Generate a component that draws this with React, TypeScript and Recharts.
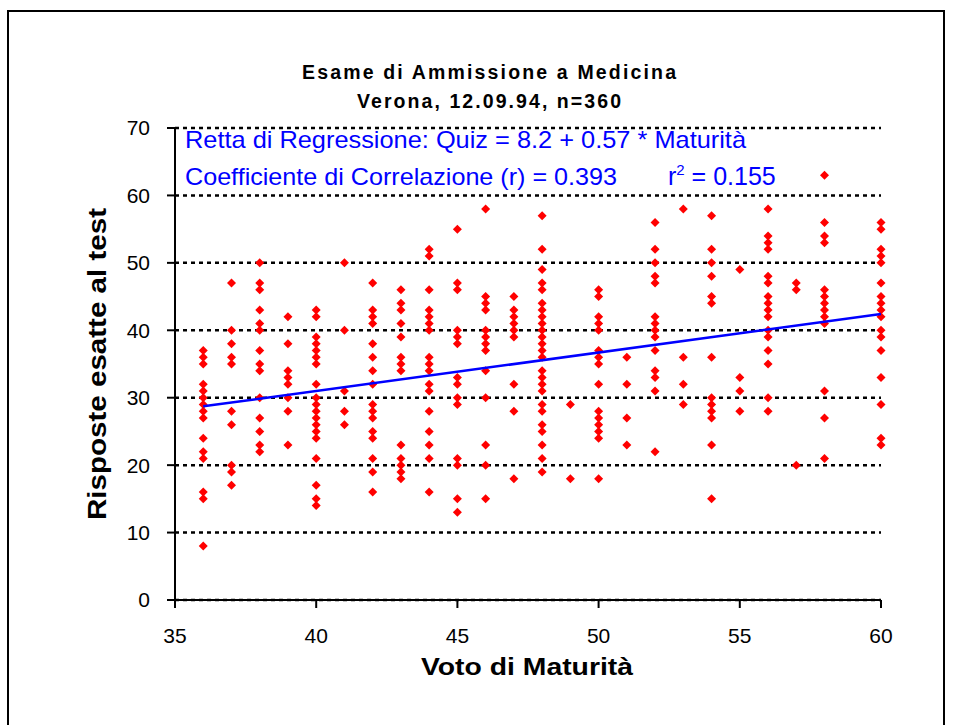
import { ScatterChart, Scatter, XAxis, YAxis, CartesianGrid } from "recharts";

// Voto di Maturità (x) and the quiz scores read for each column
const votoValues = [36, 37, 38, 39, 40, 41, 42, 43, 44, 45, 46, 47, 48, 49, 50, 51, 52, 53, 54, 55, 56, 57, 58, 60];

const quiz36 = [37, 36, 35, 32, 31, 30, 29, 28, 27, 24, 22, 21, 16, 15, 8];
const quiz37 = [47, 40, 38, 36, 35, 28, 26, 20, 19, 17];
const quiz38 = [50, 47, 46, 43, 41, 40, 37, 35, 34, 30, 27, 25, 23, 22];
const quiz39 = [42, 38, 34, 33, 32, 30, 28, 23];
const quiz40 = [43, 42, 39, 38, 37, 36, 35, 32, 30, 29, 28, 27, 26, 25, 24, 21, 17, 15, 14];
const quiz41 = [50, 40, 31, 28, 26];
const quiz42 = [47, 43, 42, 41, 38, 36, 34, 32, 29, 28, 27, 25, 24, 21, 19, 16];
const quiz43 = [46, 44, 43, 41, 39, 36, 35, 34, 23, 21, 20, 19, 18];
const quiz44 = [52, 51, 46, 43, 42, 41, 40, 36, 35, 34, 32, 31, 28, 25, 23, 21, 16];
const quiz45 = [55, 47, 46, 40, 39, 38, 33, 32, 30, 29, 21, 20, 15, 13];
const quiz46 = [58, 45, 44, 43, 40, 39, 38, 37, 34, 30, 23, 20, 15];
const quiz47 = [45, 43, 42, 41, 40, 39, 32, 28, 18];
const quiz48 = [57, 52, 49, 47, 46, 44, 43, 42, 41, 40, 39, 38, 37, 36, 34, 33, 32, 31, 29, 28, 26, 25, 23, 21, 19];
const quiz49 = [29, 18];
const quiz50 = [46, 45, 42, 41, 40, 37, 36, 35, 32, 28, 27, 26, 25, 24, 18];
const quiz51 = [36, 32, 27, 23];
const quiz52 = [56, 52, 50, 48, 47, 42, 41, 40, 39, 37, 34, 33, 31, 22];
const quiz53 = [58, 36, 32, 29];
const quiz54 = [57, 52, 50, 48, 45, 44, 36, 30, 29, 28, 27, 23, 15];
const quiz55 = [49, 33, 31, 28];
const quiz56 = [58, 54, 53, 52, 48, 47, 45, 44, 43, 42, 40, 39, 37, 35, 30, 28];
const quiz57 = [47, 46, 20];
const quiz58 = [63, 56, 54, 53, 46, 45, 44, 43, 42, 41, 31, 27, 21];
const quiz60 = [56, 55, 52, 51, 50, 47, 45, 44, 43, 42, 40, 39, 37, 33, 29, 24, 23];

const quizColumns = [
  quiz36, quiz37, quiz38, quiz39, quiz40, quiz41, quiz42, quiz43, quiz44, quiz45, quiz46, quiz47,
  quiz48, quiz49, quiz50, quiz51, quiz52, quiz53, quiz54, quiz55, quiz56, quiz57, quiz58, quiz60,
];

// regression: Quiz = 8.2 + 0.57 * Maturità
const intercept = 8.2;
const slope = 0.57;
const regressionRange = [36, 60];

const xTicks = [35, 40, 45, 50, 55, 60];
const yTicks = [0, 10, 20, 30, 40, 50, 60, 70];

const points = votoValues.flatMap((v, i) => quizColumns[i].map((q) => ({ x: v, y: q })));
const regressionPts = regressionRange.map((v) => ({ x: v, y: intercept + slope * v }));

const FONT = "'Liberation Sans', Arial, sans-serif";

const Diamond = (props: any) => {
  const { cx, cy } = props;
  if (cx == null || cy == null) return <g />;
  const r = 4.5;
  return <path d={`M${cx},${cy - r}L${cx + r},${cy}L${cx},${cy + r}L${cx - r},${cy}Z`} fill="#ff0000" />;
};

export default function App() {
  return (
    <div style={{ position: "absolute", left: 0, top: 0, width: 954, height: 725, overflow: "hidden", background: "#fff" }}>
      <div
        style={{
          position: "absolute",
          left: 7,
          top: 10,
          width: 934,
          height: 730,
          border: "2px solid #000",
        }}
      />
      <div style={{ position: "absolute", left: 0, top: 0 }}>
        <ScatterChart width={954} height={725} margin={{ top: 128, right: 73, bottom: 85, left: 115 }}>
          <CartesianGrid horizontal vertical={false} stroke="#000" strokeWidth={2.5} strokeDasharray="4 4" />
          <XAxis
            type="number"
            dataKey="x"
            domain={[35, 60]}
            ticks={xTicks}
            height={40}
            tickSize={8}
            tickMargin={20}
            axisLine={{ stroke: "#000", strokeWidth: 2 }}
            tickLine={{ stroke: "#000", strokeWidth: 2 }}
            tick={{ fill: "#000", fontSize: 21, fontFamily: FONT }}
          />
          <YAxis
            type="number"
            dataKey="y"
            domain={[0, 70]}
            ticks={yTicks}
            width={60}
            tickSize={8}
            tickMargin={17}
            axisLine={{ stroke: "#000", strokeWidth: 2 }}
            tickLine={{ stroke: "#000", strokeWidth: 2 }}
            tick={{ fill: "#000", fontSize: 21, fontFamily: FONT }}
          />
          <Scatter data={points} shape={Diamond} isAnimationActive={false} />
          <Scatter
            data={regressionPts}
            line={{ stroke: "#0000ff", strokeWidth: 2.5 }}
            shape={() => <g />}
            isAnimationActive={false}
          />
        </ScatterChart>
      </div>
      <svg width={954} height={725} style={{ position: "absolute", left: 0, top: 0, pointerEvents: "none" }}>
        <g fontFamily={FONT}>
          <text x={489} y={79} textAnchor="middle" fontSize={19.5} fontWeight="bold" textLength={374} lengthAdjust="spacing">
            Esame di Ammissione a Medicina
          </text>
          <text x={489} y={108} textAnchor="middle" fontSize={19.5} fontWeight="bold" textLength={264} lengthAdjust="spacing">
            Verona, 12.09.94, n=360
          </text>
          <text x={185} y={148} fontSize={24} fill="#0000ff" textLength={561} lengthAdjust="spacingAndGlyphs">
            Retta di Regressione: Quiz = 8.2 + 0.57 * Maturità
          </text>
          <text x={185} y={185} fontSize={24} fill="#0000ff" textLength={432} lengthAdjust="spacingAndGlyphs">
            Coefficiente di Correlazione (r) = 0.393
          </text>
          <text x={668} y={185} fontSize={25} fill="#0000ff">
            r<tspan fontSize={15} dy={-10}>2</tspan>
            <tspan dy={10}> = 0.155</tspan>
          </text>
          <text x={527} y={675} textAnchor="middle" fontSize={24} fontWeight="bold" textLength={212} lengthAdjust="spacingAndGlyphs">
            Voto di Maturità
          </text>
          <text
            x={0}
            y={0}
            transform="translate(106,364) rotate(-90)"
            textAnchor="middle"
            fontSize={25}
            fontWeight="bold"
            textLength={312}
            lengthAdjust="spacingAndGlyphs"
          >
            Risposte esatte al test
          </text>
        </g>
      </svg>
    </div>
  );
}
